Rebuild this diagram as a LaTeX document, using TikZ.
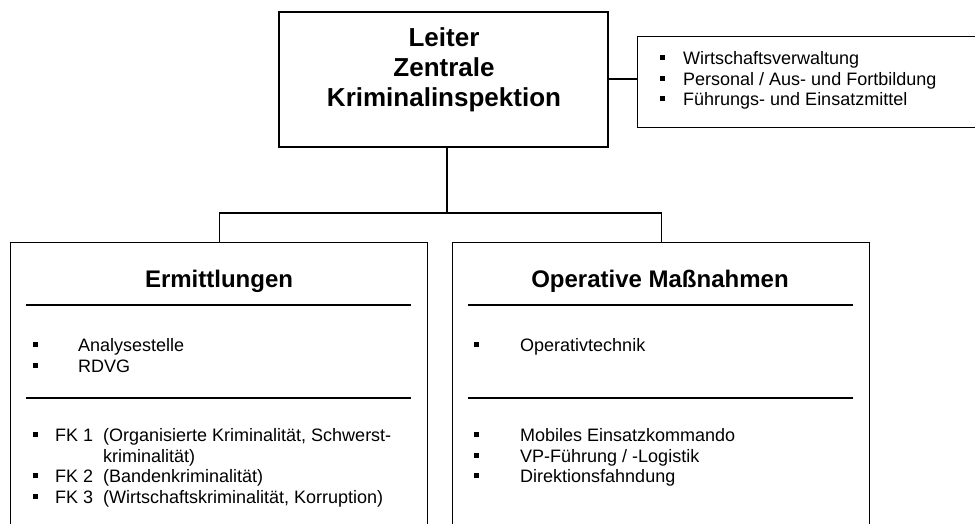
\documentclass[tikz,border=0pt]{standalone}
\usepackage{fontspec}
\setmainfont{Liberation Sans}
\newcommand{\sqbul}{\rule[4.5pt]{5pt}{5pt}}

\begin{document}
\begin{tikzpicture}[x=1pt,y=-1pt]

%
% Styles
%
\tikzstyle{unit}  = [draw,rectangle,line width=1.4pt,anchor=north west,inner sep=0pt]
\tikzstyle{head}  = [anchor=base,inner sep=0pt,font=\bfseries\fontsize{24}{28}\selectfont]
\tikzstyle{items} = [anchor=base west,inner sep=0pt,font=\fontsize{18}{20.7}\selectfont]
\tikzstyle{sep}   = [line width=1.6pt]
\tikzstyle{link}  = [line width=1.1pt]

\useasboundingbox (0,0) rectangle (975,524);
\clip (0,0) rectangle (975,524);

% top
\node[unit,line width=2.2pt,minimum width=329pt,minimum height=135pt] (leiter) at (278,11) {};
\node[head,font=\bfseries\fontsize{26}{30}\selectfont] (leitertext) at (444,47)
  {\begin{tabular}[t]{@{}c@{}}Leiter\\Zentrale\\Kriminalinspektion\end{tabular}};

\node[unit,minimum width=355pt,minimum height=91pt] (stab) at (637,36) {};
\node[items] (stablist) at (659.5,64.5)
  {\begin{tabular}[t]{@{}p{23.5pt}@{}l@{}}
   \sqbul & Wirtschaftsverwaltung\\
   \sqbul & Personal / Aus- und Fortbildung\\
   \sqbul & Führungs- und Einsatzmittel
   \end{tabular}};

% bottom
\node[unit,minimum width=417pt,minimum height=320pt] (erm) at (10,242) {};
\node[unit,minimum width=417pt,minimum height=320pt] (ops) at (452,242) {};

\node[head] (ermhead) at (219,287.6) {Ermittlungen};
\node[head] (opshead) at (660,287.6) {Operative Maßnahmen};

\draw[sep] (26,305) -- (411,305);
\draw[sep] (26,398) -- (411,398);
\draw[sep] (468,305) -- (853,305);
\draw[sep] (468,398) -- (853,398);

\node[items] (ermA) at (32.5,351.5)
  {\begin{tabular}[t]{@{}p{45.5pt}@{}l@{}}
   \sqbul & Analysestelle\\
   \sqbul & RDVG
   \end{tabular}};
\node[items] (ermB) at (32.5,441.5)
  {\begin{tabular}[t]{@{}p{22.5pt}@{}p{48pt}@{}l@{}}
   \sqbul & FK 1 & (Organisierte Kriminalität, Schwerst-\\
          &      & kriminalität)\\
   \sqbul & FK 2 & (Bandenkriminalität)\\
   \sqbul & FK 3 & (Wirtschaftskriminalität, Korruption)
   \end{tabular}};

\node[items] (opsA) at (473.5,351.5)
  {\begin{tabular}[t]{@{}p{46.5pt}@{}l@{}}
   \sqbul & Operativtechnik
   \end{tabular}};
\node[items] (opsB) at (473.5,441.5)
  {\begin{tabular}[t]{@{}p{46.5pt}@{}l@{}}
   \sqbul & Mobiles Einsatzkommando\\
   \sqbul & VP-Führung / -Logistik\\
   \sqbul & Direktionsfahndung
   \end{tabular}};

% connectors
\coordinate (bus)  at (447,213);
\coordinate (side) at (620,79);
\draw[link] (leiter.south -| bus) -- (bus);
\draw[link] (erm.north) |- (bus) -| (ops.north);
\draw[link] (leiter.east |- side) -- (stab.west |- side);

\end{tikzpicture}
\end{document}
